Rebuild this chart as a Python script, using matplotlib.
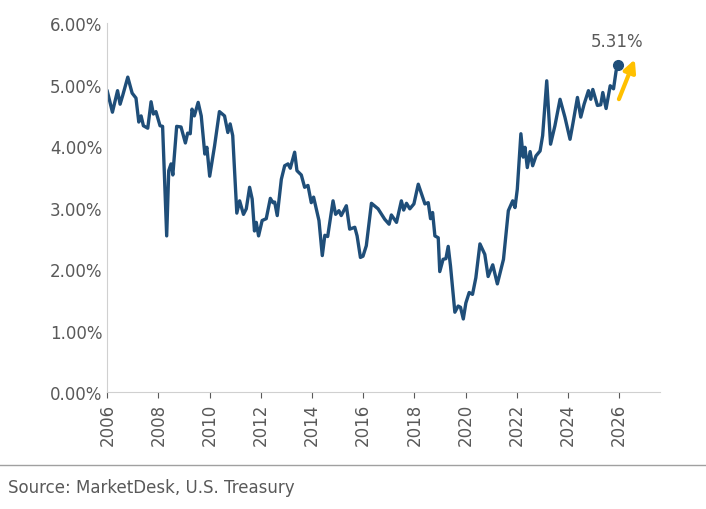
import matplotlib.pyplot as plt
from matplotlib.ticker import FuncFormatter

# Yield readings (year, %)
years = [2006.0, 2006.2, 2006.4, 2006.5, 2006.6, 2006.8, 2006.97, 2007.12, 2007.23, 2007.32,
         2007.41, 2007.58, 2007.71, 2007.8, 2007.9, 2008.06, 2008.16, 2008.32, 2008.4, 2008.49,
         2008.56, 2008.71, 2008.88, 2009.05, 2009.14, 2009.24, 2009.31, 2009.4, 2009.55, 2009.67,
         2009.81, 2009.89, 2010.0, 2010.19, 2010.38, 2010.58, 2010.71, 2010.8, 2010.9, 2011.06,
         2011.17, 2011.32, 2011.43, 2011.56, 2011.66, 2011.75, 2011.82, 2011.91, 2012.05, 2012.21,
         2012.37, 2012.47, 2012.54, 2012.64, 2012.8, 2012.93, 2013.06, 2013.15, 2013.32, 2013.41,
         2013.58, 2013.71, 2013.84, 2013.97, 2014.06, 2014.27, 2014.4, 2014.5, 2014.61, 2014.82,
         2014.92, 2015.05, 2015.14, 2015.34, 2015.47, 2015.67, 2015.76, 2015.89, 2015.99, 2016.12,
         2016.32, 2016.58, 2016.84, 2017.01, 2017.1, 2017.3, 2017.49, 2017.58, 2017.69, 2017.82,
         2017.98, 2018.15, 2018.41, 2018.54, 2018.63, 2018.71, 2018.8, 2018.93, 2018.99, 2019.12,
         2019.23, 2019.32, 2019.41, 2019.58, 2019.71, 2019.8, 2019.91, 2020.01, 2020.14, 2020.27,
         2020.4, 2020.56, 2020.75, 2020.88, 2021.06, 2021.24, 2021.48, 2021.67, 2021.84, 2021.93,
         2022.02, 2022.16, 2022.25, 2022.32, 2022.41, 2022.52, 2022.62, 2022.75, 2022.91, 2023.01,
         2023.17, 2023.32, 2023.49, 2023.69, 2023.88, 2024.08, 2024.19, 2024.37, 2024.5, 2024.63,
         2024.8, 2024.89, 2024.97, 2025.15, 2025.28, 2025.36, 2025.49, 2025.65, 2025.78, 2025.88,
         2025.97]
yields = [4.89, 4.55, 4.90, 4.68, 4.82, 5.12, 4.86, 4.78, 4.39, 4.49,
          4.33, 4.29, 4.72, 4.52, 4.56, 4.33, 4.32, 2.54, 3.60, 3.71,
          3.53, 4.32, 4.31, 4.05, 4.21, 4.20, 4.60, 4.49, 4.71, 4.49,
          3.87, 3.98, 3.51, 4.00, 4.56, 4.49, 4.22, 4.36, 4.17, 2.91,
          3.11, 2.89, 2.98, 3.33, 3.14, 2.62, 2.76, 2.54, 2.79, 2.82,
          3.15, 3.08, 3.09, 2.87, 3.46, 3.68, 3.71, 3.64, 3.90, 3.60,
          3.53, 3.33, 3.36, 3.08, 3.17, 2.79, 2.22, 2.55, 2.53, 3.11,
          2.89, 2.95, 2.87, 3.03, 2.65, 2.68, 2.54, 2.19, 2.21, 2.38,
          3.07, 2.98, 2.81, 2.73, 2.88, 2.76, 3.11, 2.96, 3.07, 2.98,
          3.06, 3.38, 3.06, 3.08, 2.82, 2.92, 2.54, 2.51, 1.96, 2.16,
          2.17, 2.37, 2.05, 1.30, 1.40, 1.38, 1.19, 1.45, 1.62, 1.59,
          1.86, 2.41, 2.24, 1.88, 2.07, 1.76, 2.16, 2.95, 3.11, 3.00,
          3.30, 4.20, 3.82, 3.98, 3.65, 3.91, 3.68, 3.84, 3.92, 4.17,
          5.06, 4.03, 4.33, 4.76, 4.47, 4.11, 4.36, 4.79, 4.47, 4.68,
          4.90, 4.76, 4.92, 4.66, 4.67, 4.87, 4.61, 4.98, 4.93, 5.22,
          5.31]
last_label = "5.31%"
source = "Source: MarketDesk, U.S. Treasury"

navy = "#1f4e79"
grey = "#595959"

fig = plt.figure(figsize=(7.06, 5.10), dpi=100)
ax = fig.add_axes([0.152, 0.229, 0.783, 0.724])

ax.plot(years, yields, color=navy, lw=2.4, solid_joinstyle="round")
ax.plot(years[-1], yields[-1], "o", color=navy, ms=7)
ax.annotate("", xy=(2026.65, 5.45), xytext=(2025.95, 4.72),
            arrowprops=dict(arrowstyle="-|>", color="#ffc000", lw=3, mutation_scale=18))
ax.text(years[-1] - 0.05, 5.7, last_label, ha="center", va="center", fontsize=12, color=grey)

ax.set_xlim(2006, 2027.6)
ax.set_ylim(0, 6)
ax.set_xticks(range(2006, 2027, 2))
ax.set_yticks([0, 1, 2, 3, 4, 5, 6])
ax.yaxis.set_major_formatter(FuncFormatter(lambda v, p: f"{v:.2f}%"))
ax.tick_params(axis="x", rotation=90)
ax.tick_params(colors=grey, labelsize=12, length=4)
ax.tick_params(axis="y", length=0)
for s in ["top", "right"]:
    ax.spines[s].set_visible(False)
for s in ["left", "bottom"]:
    ax.spines[s].set_color("#d0d0d0")

fig.add_artist(plt.Line2D([0, 1], [1 - 466 / 510] * 2, color="#a0a0a0", lw=1))
fig.text(0.012, 1 - 488 / 510, source, fontsize=12, color=grey, va="center")

fig.savefig("out.png", dpi=100)
